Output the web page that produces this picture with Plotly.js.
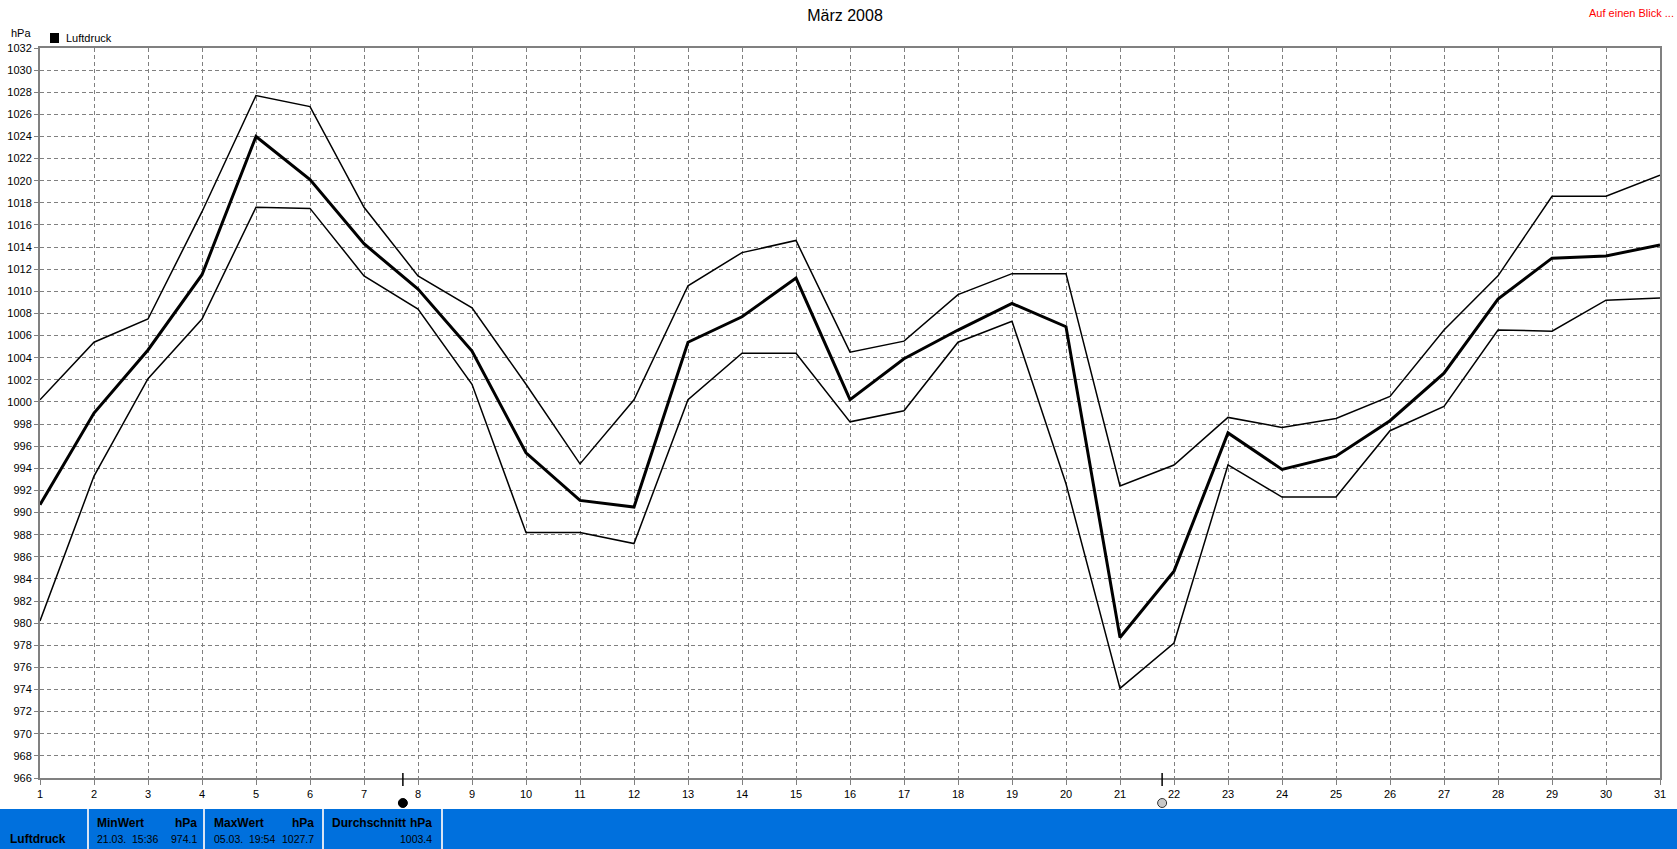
<!DOCTYPE html>
<html>
<head>
<meta charset="utf-8">
<script src="https://cdn.plot.ly/plotly-3.0.1.min.js"></script>
<style>
html,body{margin:0;padding:0;background:#fff;}
#chart{width:1677px;height:849px;}
</style>
</head>
<body>
<div id="chart"></div>
<script>
// ---- data ----
const days = [1,2,3,4,5,6,7,8,9,10,11,12,13,14,15,16,17,18,19,20,21,22,23,24,25,26,27,28,29,30,31];
const pressureMax = [1000.2,1005.4,1007.5,1017.2,1027.7,1026.7,1017.6,1011.4,1008.5,1001.6,994.4,1000.2,1010.5,1013.5,1014.6,1004.5,1005.5,1009.7,1011.6,1011.6,992.4,994.3,998.6,997.7,998.5,1000.5,1006.5,1011.4,1018.6,1018.6,1020.5];
const pressureMean = [990.7,999.0,1004.7,1011.5,1024.0,1020.1,1014.3,1010.2,1004.6,995.4,991.1,990.5,1005.4,1007.7,1011.2,1000.2,1003.9,1006.5,1008.9,1006.8,978.7,984.7,997.2,993.9,995.1,998.3,1002.6,1009.3,1013.0,1013.2,1014.2];
const pressureMin = [980.2,993.3,1002.1,1007.5,1017.6,1017.5,1011.4,1008.4,1001.6,988.2,988.2,987.2,1000.2,1004.4,1004.4,998.2,999.2,1005.4,1007.3,992.6,974.1,978.2,994.3,991.4,991.4,997.4,999.6,1006.5,1006.4,1009.2,1009.4];
const yTickVals = [966,968,970,972,974,976,978,980,982,984,986,988,990,992,994,996,998,1000,1002,1004,1006,1008,1010,1012,1014,1016,1018,1020,1022,1024,1026,1028,1030,1032];
const xTickLabels = days.map(String);
const moonPhases = [7.72, 21.78];           // new moon, full moon (day + fraction)
const moonKinds = ['new', 'full'];
const statSeries = 'Luftdruck';
const statHeaders = ['MinWert', 'MaxWert', 'Durchschnitt'];
const statUnits = ['hPa', 'hPa', 'hPa'];
const statWhen = ['21.03.\u00a0\u00a015:36', '05.03.\u00a0\u00a019:54', ''];
const statValues = ['974.1', '1027.7', '1003.4'];

// ---- geometry helpers (pixel -> paper) ----
const W = 1677, H = 849;
const PL = 40, PR = 1660, PT = 48, PB = 778;
const px = v => (v - PL) / (PR - PL);
const py = v => (PB - v) / (PB - PT);

const FONT = '"Liberation Sans", Arial, sans-serif';

const traces = [
  {x: days, y: pressureMax, mode: 'lines', line: {color: '#000', width: 1.5}, hoverinfo: 'x+y', showlegend: false},
  {x: days, y: pressureMin, mode: 'lines', line: {color: '#000', width: 1.5}, hoverinfo: 'x+y', showlegend: false},
  {x: days, y: pressureMean, mode: 'lines', line: {color: '#000', width: 3}, hoverinfo: 'x+y', showlegend: false}
];

const shapes = [];
const annotations = [];

// moon phase markers
moonPhases.forEach((d, i) => {
  shapes.push({type: 'line', xref: 'x', yref: 'paper', x0: d, x1: d, y0: py(773), y1: py(786),
    line: {color: '#000', width: 1.5}});
  shapes.push({type: 'circle', xref: 'x', yref: 'paper', xsizemode: 'pixel', ysizemode: 'pixel',
    xanchor: d, yanchor: py(803), x0: -4.5, x1: 4.5, y0: -4.5, y1: 4.5,
    fillcolor: moonKinds[i] === 'new' ? '#000' : '#c8c8c8',
    line: {color: moonKinds[i] === 'new' ? '#000' : '#333', width: 1}});
});

// blue statistics band
shapes.push({type: 'rect', xref: 'paper', yref: 'paper', x0: px(0), x1: px(W), y0: py(809), y1: py(H + 2),
  fillcolor: '#0070dd', line: {width: 0}, layer: 'above'});
[88, 204, 323, 442].forEach(xp => {
  shapes.push({type: 'line', xref: 'paper', yref: 'paper', x0: px(xp), x1: px(xp), y0: py(809), y1: py(H + 2),
    line: {color: '#d8e4f4', width: 2}});
});

// legend marker
shapes.push({type: 'rect', xref: 'paper', yref: 'paper', x0: px(50), x1: px(59), y0: py(33), y1: py(43),
  fillcolor: '#000', line: {width: 0}});

function txt(text, x, y, anchor, opts) {
  opts = opts || {};
  annotations.push({text: text, xref: 'paper', yref: 'paper', x: px(x), y: py(y),
    xanchor: anchor, yanchor: 'middle', showarrow: false,
    font: {family: FONT, size: opts.size || 11, color: opts.color || '#000', weight: opts.bold ? 'bold' : 'normal'}});
}

txt('hPa', 9, 33, 'left');
txt('Luftdruck', 64, 38, 'left');
txt('Auf einen Blick ...', 1676, 13, 'right', {color: '#ff0000'});

txt(statSeries, 8, 839, 'left', {bold: true, size: 12});
const colLeft = [95, 212, 330];
const colRight = [199, 316, 434];
statHeaders.forEach((h, i) => {
  txt(h, colLeft[i], 823, 'left', {bold: true, size: 12});
  txt(statUnits[i], colRight[i], 823, 'right', {bold: true, size: 12});
  if (statWhen[i]) txt(statWhen[i], colLeft[i], 839, 'left', {size: 10.5});
  txt(statValues[i], colRight[i], 839, 'right', {size: 10.5});
});

const layout = {
  width: W, height: H,
  margin: {l: PL, r: W - PR, t: PT, b: H - PB, pad: 0},
  paper_bgcolor: '#fff', plot_bgcolor: '#fff',
  showlegend: false,
  font: {family: FONT, size: 11, color: '#000'},
  title: {text: 'März 2008', font: {family: FONT, size: 16, color: '#000'},
    x: 845 / W, xref: 'container', xanchor: 'center', y: 1 - 15 / H, yref: 'container', yanchor: 'middle'},
  xaxis: {range: [1, 31], tickvals: days, ticktext: xTickLabels, showgrid: true, gridcolor: '#808080', gridwidth: 1,
    griddash: '4px,3px', zeroline: false, showline: true, linecolor: '#808080', linewidth: 2, mirror: true,
    ticks: 'outside', ticklen: 5, tickcolor: '#808080', tickwidth: 1,
    tickfont: {family: FONT, size: 11, color: '#000'}, fixedrange: true},
  yaxis: {range: [966, 1032], tickvals: yTickVals, showgrid: true, gridcolor: '#808080', gridwidth: 1,
    griddash: '4px,3px', zeroline: false, showline: true, linecolor: '#808080', linewidth: 2, mirror: true,
    ticks: 'outside', ticklen: 4, tickcolor: '#808080', tickwidth: 1,
    tickfont: {family: FONT, size: 11, color: '#000'}, fixedrange: true},
  shapes: shapes,
  annotations: annotations
};

Plotly.newPlot('chart', traces, layout, {displayModeBar: false, staticPlot: true});
</script>
</body>
</html>
